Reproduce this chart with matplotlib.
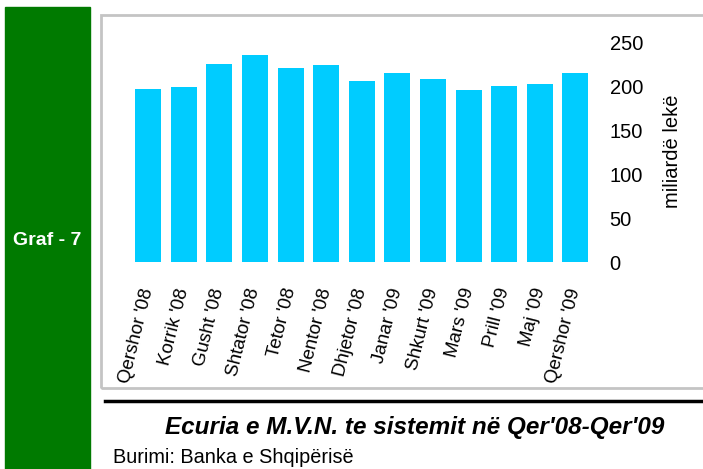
import matplotlib.pyplot as plt
from matplotlib.patches import Rectangle
from matplotlib.lines import Line2D

months = ["Qershor '08", "Korrik '08", "Gusht '08", "Shtator '08", "Tetor '08",
          "Nentor '08", "Dhjetor '08", "Janar '09", "Shkurt '09", "Mars '09",
          "Prill '09", "Maj '09", "Qershor '09"]
values = [197, 199, 225, 235, 220, 224, 206, 215, 208, 196, 200, 202, 215]
yticks = [0, 50, 100, 150, 200, 250]

W, H = 703, 469
plt.rcParams['font.family'] = ['Liberation Sans', 'DejaVu Sans']

fig = plt.figure(figsize=(W / 100, H / 100), dpi=100)


def fx(px):
    return px / W


def fy(py):
    return 1 - py / H


# green side panel
fig.patches.append(Rectangle((fx(5), fy(469)), fx(85), 462 / H,
                             transform=fig.transFigure, color="#007a00", zorder=0))
fig.text(fx(47), fy(240), "Graf - 7", color="white", fontsize=14,
         fontweight="bold", ha="center", va="center")

# gray frame around the chart (right side runs off the page)
fig.patches.append(Rectangle((fx(101), fy(388)), fx(700), (388 - 15) / H,
                             transform=fig.transFigure, fill=False,
                             edgecolor="#c4c4c4", linewidth=2, zorder=0))

# black rule under the chart
fig.lines.append(Line2D([fx(105), fx(703)], [fy(401), fy(401)],
                        transform=fig.transFigure, color="black", linewidth=2.5))

ax = fig.add_axes([fx(120), fy(262), fx(480), (262 - 42) / H])
x = list(range(len(months)))
ax.bar(x, values, width=0.73, color="#00ccff")
ax.set_xlim(-0.79, 12.69)
ax.set_ylim(0, 250)
ax.set_yticks(yticks)
ax.yaxis.tick_right()
ax.tick_params(axis="y", length=0, pad=7, labelsize=14.5)
ax.set_xticks(x)
ax.set_xticklabels(months, rotation=76, ha="right", va="center",
                   rotation_mode="anchor", fontsize=13.5)
ax.tick_params(axis="x", length=0, pad=19)
for s in ax.spines.values():
    s.set_visible(False)

fig.text(fx(672), fy(151), "miliardë lekë", rotation=90, fontsize=14.5,
         ha="center", va="center")

fig.text(fx(415), fy(427), "Ecuria e M.V.N. te sistemit në Qer'08-Qer'09",
         fontsize=17.5, fontweight="bold", fontstyle="italic",
         ha="center", va="center")
fig.text(fx(113), fy(457), "Burimi: Banka e Shqipërisë", fontsize=14.3,
         ha="left", va="center")

fig.savefig("out.png", dpi=100, facecolor="white")
